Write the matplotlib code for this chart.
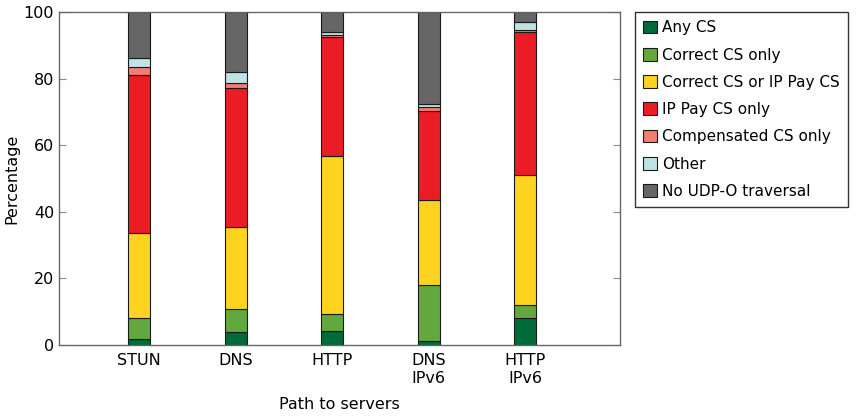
import matplotlib
matplotlib.use('Agg')
import matplotlib.pyplot as plt
import numpy as np

paths = ['STUN', 'DNS', 'HTTP', 'DNS\nIPv6', 'HTTP\nIPv6']
series = ['Any CS', 'Correct CS only', 'Correct CS or IP Pay CS', 'IP Pay CS only',
          'Compensated CS only', 'Other', 'No UDP-O traversal']
any_cs = [1.8, 4.0, 4.3, 1.3, 8.2]
correct_only = [6.2, 6.7, 5.0, 16.6, 3.7]
correct_or_ip = [25.7, 24.6, 47.4, 25.7, 39.2]
ip_pay_only = [47.3, 41.8, 35.7, 26.6, 42.9]
compensated = [2.5, 1.6, 0.6, 1.4, 0.7]
other = [2.8, 3.2, 1.0, 0.9, 2.2]
no_traversal = [13.7, 18.1, 6.0, 27.5, 3.1]

colors = ['#006b3a', '#62a83e', '#fdd31f', '#ec1c24', '#f47c70', '#bde3e4', '#666666']

plt.rcParams['font.family'] = ['DejaVu Sans']
plt.rcParams['font.size'] = 11.5

fig = plt.figure(figsize=(8.62, 4.18), dpi=100)
ax = fig.add_axes([59/862, 73/418, 561/862, 333/418])

x = np.arange(len(paths))
bottom = np.zeros(len(paths))
data = [any_cs, correct_only, correct_or_ip, ip_pay_only, compensated, other, no_traversal]
for name, vals, c in zip(series, data, colors):
    ax.bar(x, vals, width=0.23, bottom=bottom, color=c, edgecolor='#1a1a1a',
           linewidth=0.8, label=name)
    bottom += np.array(vals)

ax.set_xlim(-0.83, 4.98)
ax.set_ylim(0, 100)
ax.set_xticks(x)
ax.set_xticklabels(paths)
ax.set_yticks([0, 20, 40, 60, 80, 100])
ax.tick_params(axis='x', length=0, pad=6)
ax.tick_params(axis='y', direction='in', length=5, color='#888888', right=True)
for s in ax.spines.values():
    s.set_color('#666666')
    s.set_linewidth(1.0)

ax.set_xlabel('Path to servers', labelpad=8)
ax.set_ylabel('Percentage', labelpad=3)

ax.legend(loc='upper left', bbox_to_anchor=(635/862, 1 - 12/418),
          bbox_transform=fig.transFigure, borderaxespad=0, fancybox=False,
          edgecolor='#333333', framealpha=1, fontsize=11, handlelength=0.9,
          handleheight=0.9, handletextpad=0.3, labelspacing=0.8, borderpad=0.55)

fig.savefig('out.png', dpi=100)
